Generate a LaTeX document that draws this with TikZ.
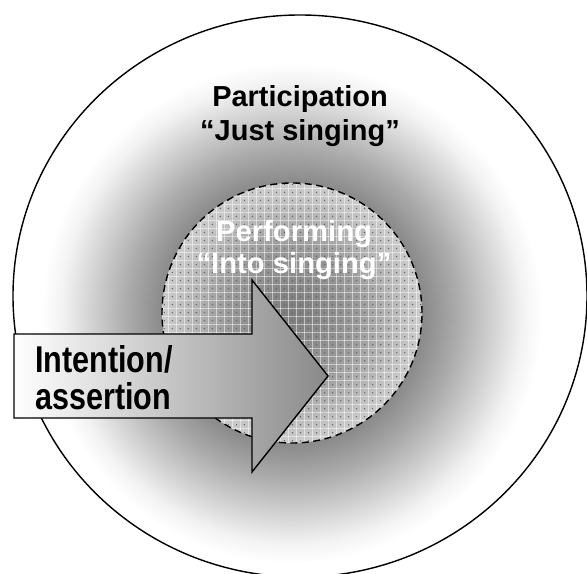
\documentclass[tikz,border=0pt]{standalone}
\usepackage{fontspec}
\setmainfont{Liberation Sans}
\newfontfamily\narrowsans[FakeStretch=0.82]{Liberation Sans}
\usetikzlibrary{patterns.meta}

\pgfdeclareradialshading{glow}{\pgfpointorigin}{color(0bp)=(black!60); color(9bp)=(black!55); color(13bp)=(black!46); color(16.5bp)=(black!33); color(20bp)=(black!18); color(23bp)=(black!5); color(25bp)=(white); color(50bp)=(white)}
\pgfdeclareradialshading{haze}{\pgfpointorigin}{color(0bp)=(black!52); color(12.5bp)=(black!40); color(22bp)=(black!24); color(25bp)=(black!20); color(50bp)=(black!20)}

\tikzset{
  ringtext/.style={font=\bfseries\fontsize{20.6}{24.2}\selectfont, align=center, inner sep=0pt},
  coretext/.style={font=\bfseries\fontsize{20.8}{22.5}\selectfont, text=white, align=center, inner sep=0pt},
  arrowtext/.style={font=\narrowsans\bfseries\fontsize{26.5}{26.4}\selectfont, align=left, inner sep=0pt}
}

\begin{document}
\begin{tikzpicture}
			\useasboundingbox (-7.5,-6.925) rectangle (7.175,7.4);
			\fill[white] (-7.5,-6.925) rectangle (7.175,7.4);
			\clip (-7.5,-6.925) rectangle (7.175,7.4);

			% participation
			\fill[white] (0,0) ellipse [x radius=7.175, y radius=7.025];
			\begin{scope}
				\clip (0,0) ellipse [x radius=7.175, y radius=7.025];
				\shade[shading=glow] (-0.2,-0.425) circle [radius=6.25];
			\end{scope}

			% performing
			\shade[shading=haze] (-0.2,-0.425) circle [radius=3.25];
			\fill[pattern={Lines[distance=5.7pt, angle=0, line width=0.6pt]}, pattern color=white, opacity=0.5] (-0.2,-0.425) circle [radius=3.25];
			\fill[pattern={Lines[distance=5.7pt, angle=90, line width=0.6pt]}, pattern color=white, opacity=0.5] (-0.2,-0.425) circle [radius=3.25];
			\fill[pattern={Dots[distance=5.7pt, radius=0.55pt, xshift=2.85pt, yshift=2.85pt]}, pattern color=black!60] (-0.2,-0.425) circle [radius=3.25];
			\draw[line width=1pt, dash pattern=on 5pt off 3.2pt] (-0.2,-0.425) circle [radius=3.25];

			\draw[line width=1pt] (0,0) ellipse [x radius=7.175, y radius=7.025];

			% intention
			\shadedraw[left color=white, right color=black!46, draw=black, line width=1pt, line join=miter]
				(-7.15,-0.95) -- (-1.2,-0.95) -- (-1.2,0.4) -- (0.7,-2.0) -- (-1.2,-4.4) -- (-1.2,-3.05) -- (-7.15,-3.05) -- cycle;

			\node[ringtext] (ring) at (0,4.5) {Participation\\“Just singing”};
			\node[coretext] (core) at (-0.15,1.15) {Performing\\“Into singing”};
			\node[arrowtext, anchor=west] (push) at (-6.625,-2.05) {Intention/\\assertion};
		\end{tikzpicture}
\end{document}
